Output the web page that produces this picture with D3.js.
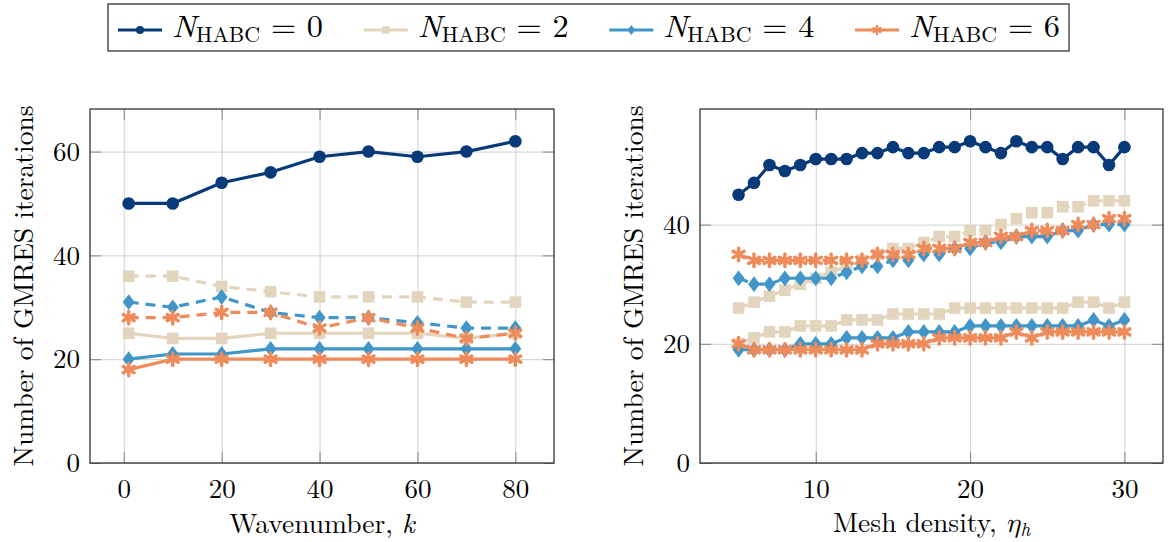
<!DOCTYPE html>
<html>
<head>
  <meta charset="utf-8">
  <title>GMRES iterations vs wavenumber and mesh density</title>
  <script src="https://d3js.org/d3.v7.min.js"></script>
  <style>
    body { margin: 0; background: #fff; }
  </style>
</head>
<body>
<script>
  // Data: left panel, wavenumber k
  var kValues = [1, 10, 20, 30, 40, 50, 60, 70, 80];
  var k_habc0 = [50, 50, 54, 56, 59, 60, 59, 60, 62];
  var k_habc2 = [25, 24, 24, 25, 25, 25, 25, 24, 25];
  var k_habc4 = [20, 21, 21, 22, 22, 22, 22, 22, 22];
  var k_habc6 = [18, 20, 20, 20, 20, 20, 20, 20, 20];
  var k_habc2Dash = [36, 36, 34, 33, 32, 32, 32, 31, 31];
  var k_habc4Dash = [31, 30, 32, 29, 28, 28, 27, 26, 26];
  var k_habc6Dash = [28, 28, 29, 29, 26, 28, 26, 24, 25];

  // Data: right panel, mesh density eta_h
  var etaValues = [5, 6, 7, 8, 9, 10, 11, 12, 13, 14, 15, 16, 17, 18, 19, 20, 21, 22, 23, 24, 25, 26, 27, 28, 29, 30];
  var eta_habc0 = [45, 47, 50, 49, 50, 51, 51, 51, 52, 52, 53, 52, 52, 53, 53, 54, 53, 52, 54, 53, 53, 51, 53, 53, 50, 53];
  var eta_habc2 = [20, 21, 22, 22, 23, 23, 23, 24, 24, 24, 25, 25, 25, 25, 26, 26, 26, 26, 26, 26, 26, 26, 27, 27, 26, 27];
  var eta_habc4 = [19, 19, 19, 19, 20, 20, 20, 21, 21, 21, 21, 22, 22, 22, 22, 23, 23, 23, 23, 23, 23, 23, 23, 24, 23, 24];
  var eta_habc6 = [20, 19, 19, 19, 19, 19, 19, 19, 19, 20, 20, 20, 20, 21, 21, 21, 21, 21, 22, 21, 22, 22, 22, 22, 22, 22];
  var eta_habc2Dash = [26, 27, 28, 29, 30, 31, 32, 33, 34, 35, 36, 36, 37, 38, 38, 39, 39, 40, 41, 42, 42, 43, 43, 44, 44, 44];
  var eta_habc4Dash = [31, 30, 30, 31, 31, 31, 31, 32, 33, 33, 34, 34, 35, 35, 36, 36, 37, 37, 38, 38, 38, 39, 39, 40, 40, 40];
  var eta_habc6Dash = [35, 34, 34, 34, 34, 34, 34, 34, 34, 35, 35, 35, 36, 36, 36, 37, 37, 38, 38, 39, 39, 39, 40, 40, 41, 41];

  var legendLabels = ["0", "2", "4", "6"];

  // Styles
  var FONT = "'Latin Modern Roman', 'Liberation Serif', serif";
  var colors = ["#083a7a", "#e3d5bd", "#4096c8", "#ef8a5a"];
  var marks = ["circle", "square", "diamond", "star"];

  var svg = d3.select("body")
              .append("svg")
              .attr("width", 1172)
              .attr("height", 542)
              .attr("font-family", FONT);

  function markPath(type, s) {
    if (type == "circle") return d3.symbol(d3.symbolCircle, Math.PI * s * s)();
    if (type == "square") return d3.symbol(d3.symbolSquare, 3.4 * s * s)();
    if (type == "diamond") return "M0," + (-1.25 * s) + "L" + (0.95 * s) + ",0L0," + (1.25 * s) + "L" + (-0.95 * s) + ",0Z";
    // asterisk: three strokes
    var a = s, b = s * 0.866, c = s * 0.5;
    return "M0," + (-a) + "V" + a + "M" + (-b) + "," + (-c) + "L" + b + "," + c + "M" + (-b) + "," + c + "L" + b + "," + (-c);
  }

  function drawMark(sel, type, color, s) {
    var p = sel.append("path").attr("d", markPath(type, s));
    if (type == "star") p.attr("fill", "none").attr("stroke", color).attr("stroke-width", 3.4).attr("stroke-linecap", "round");
    else p.attr("fill", color);
    return p;
  }

  function drawPanel(p) {
    var x = d3.scaleLinear().domain(p.xDomain).range([p.left, p.right]);
    var y = d3.scaleLinear().domain(p.yDomain).range([p.bottom, p.top]);
    var h = p.bottom - p.top, w = p.right - p.left;
    var g = svg.append("g");

    // grid
    g.append("g")
      .attr("transform", "translate(0," + p.bottom + ")")
      .call(d3.axisBottom(x).tickValues(p.xTicks).tickSize(-h).tickFormat(""))
      .call(function(s) { s.select(".domain").remove(); })
      .selectAll("line").attr("stroke", "#d0d0d0").attr("stroke-width", 1);
    g.append("g")
      .attr("transform", "translate(" + p.left + ",0)")
      .call(d3.axisLeft(y).tickValues(p.yTicks).tickSize(-w).tickFormat(""))
      .call(function(s) { s.select(".domain").remove(); })
      .selectAll("line").attr("stroke", "#d0d0d0").attr("stroke-width", 1);

    // inner tick marks on all four sides
    var tl = 11;
    var tickAxes = [
      [d3.axisTop(x).tickValues(p.xTicks), "translate(0," + p.bottom + ")"],
      [d3.axisBottom(x).tickValues(p.xTicks), "translate(0," + p.top + ")"],
      [d3.axisRight(y).tickValues(p.yTicks), "translate(" + p.left + ",0)"],
      [d3.axisLeft(y).tickValues(p.yTicks), "translate(" + p.right + ",0)"]
    ];
    tickAxes.forEach(function(t) {
      g.append("g")
        .attr("transform", t[1])
        .call(t[0].tickSize(tl).tickFormat(""))
        .call(function(s) { s.select(".domain").remove(); })
        .selectAll("line").attr("stroke", "#858585").attr("stroke-width", 1);
    });

    // tick labels
    g.append("g")
      .attr("transform", "translate(0," + p.bottom + ")")
      .call(d3.axisBottom(x).tickValues(p.xTicks).tickSize(0).tickPadding(16).tickFormat(d3.format("d")))
      .call(function(s) { s.select(".domain").remove(); })
      .attr("font-family", FONT).attr("font-size", 27);
    g.append("g")
      .attr("transform", "translate(" + p.left + ",0)")
      .call(d3.axisLeft(y).tickValues(p.yTicks).tickSize(0).tickPadding(10).tickFormat(d3.format("d")))
      .call(function(s) { s.select(".domain").remove(); })
      .attr("font-family", FONT).attr("font-size", 27);

    // series
    var line = d3.line()
      .x(function(d) { return x(d[0]); })
      .y(function(d) { return y(d[1]); });

    p.series.forEach(function(s) {
      var pts = p.xs.map(function(v, i) { return [v, s.values[i]]; });
      var sg = g.append("g");
      sg.append("path")
        .attr("d", line(pts))
        .attr("fill", "none")
        .attr("stroke", colors[s.n])
        .attr("stroke-width", 3.2)
        .attr("stroke-linejoin", "round")
        .attr("stroke-dasharray", s.dashed ? "10,7" : null);
      sg.selectAll(".mk")
        .data(pts)
        .enter()
        .append("g")
        .attr("transform", function(d) { return "translate(" + x(d[0]) + "," + y(d[1]) + ")"; })
        .each(function() { drawMark(d3.select(this), marks[s.n], colors[s.n], 6.3); });
    });

    // frame
    g.append("rect")
      .attr("x", p.left).attr("y", p.top)
      .attr("width", w).attr("height", h)
      .attr("fill", "none").attr("stroke", "#333").attr("stroke-width", 1.3);

    // axis labels
    var xl = g.append("text")
      .attr("x", (p.left + p.right) / 2)
      .attr("y", p.xLabelY)
      .attr("text-anchor", "middle")
      .attr("font-size", 27.5);
    p.xLabel(xl);

    g.append("text")
      .attr("transform", "translate(" + (p.left - 57) + "," + ((p.top + p.bottom) / 2) + ") rotate(-90)")
      .attr("text-anchor", "middle")
      .attr("font-size", 27.5)
      .text("Number of GMRES iterations");
  }

  drawPanel({
    left: 90, right: 554, top: 109, bottom: 463,
    xDomain: [-6.9, 87.9], yDomain: [0, 68.2],
    xTicks: [0, 20, 40, 60, 80], yTicks: [0, 20, 40, 60],
    xs: kValues,
    series: [
      {n: 0, values: k_habc0},
      {n: 1, values: k_habc2},
      {n: 2, values: k_habc4},
      {n: 3, values: k_habc6},
      {n: 1, values: k_habc2Dash, dashed: true},
      {n: 2, values: k_habc4Dash, dashed: true},
      {n: 3, values: k_habc6Dash, dashed: true}
    ],
    xLabelY: 533,
    xLabel: function(t) {
      t.append("tspan").text("Wavenumber, ");
      t.append("tspan").style("font-style", "italic").text("k");
    }
  });

  drawPanel({
    left: 700, right: 1163, top: 109, bottom: 463,
    xDomain: [2.5, 32.5], yDomain: [0, 59.4],
    xTicks: [10, 20, 30], yTicks: [0, 20, 40],
    xs: etaValues,
    series: [
      {n: 0, values: eta_habc0},
      {n: 1, values: eta_habc2},
      {n: 2, values: eta_habc4},
      {n: 3, values: eta_habc6},
      {n: 1, values: eta_habc2Dash, dashed: true},
      {n: 2, values: eta_habc4Dash, dashed: true},
      {n: 3, values: eta_habc6Dash, dashed: true}
    ],
    xLabelY: 532,
    xLabel: function(t) {
      t.append("tspan").text("Mesh density, ");
      t.append("tspan").style("font-style", "italic")
        .attr("font-family", "'Latin Modern Math', 'Latin Modern Roman', 'Liberation Serif', serif").text("η");
      t.append("tspan").style("font-style", "italic").attr("font-size", 19).attr("dy", 4).text("h");
    }
  });

  // Legend
  var legend = svg.append("g");
  legend.append("rect")
    .attr("x", 108).attr("y", 4)
    .attr("width", 961).attr("height", 47)
    .attr("fill", "#fff").attr("stroke", "#333").attr("stroke-width", 1.3);

  var legendX = d3.scaleLinear().domain([0, 3]).range([118, 855]);

  legendLabels.forEach(function(lab, i) {
    var x0 = legendX(i);
    var e = legend.append("g");
    e.append("line")
      .attr("x1", x0).attr("x2", x0 + 44)
      .attr("y1", 30).attr("y2", 30)
      .attr("stroke", colors[i]).attr("stroke-width", 3);
    var m = e.append("g").attr("transform", "translate(" + (x0 + 22) + ",30)");
    drawMark(m, marks[i], colors[i], 4).attr("stroke-width", marks[i] == "star" ? 2.4 : null);
    var t = e.append("text")
      .attr("x", x0 + 54).attr("y", 37)
      .attr("textLength", 151)
      .attr("lengthAdjust", "spacingAndGlyphs")
      .attr("font-size", 31);
    t.append("tspan").style("font-style", "italic").text("N");
    t.append("tspan").attr("font-size", 21).attr("dy", 5).text("HABC");
    t.append("tspan").attr("dy", -5).text(" = " + lab);
  });
</script>
</body>
</html>
